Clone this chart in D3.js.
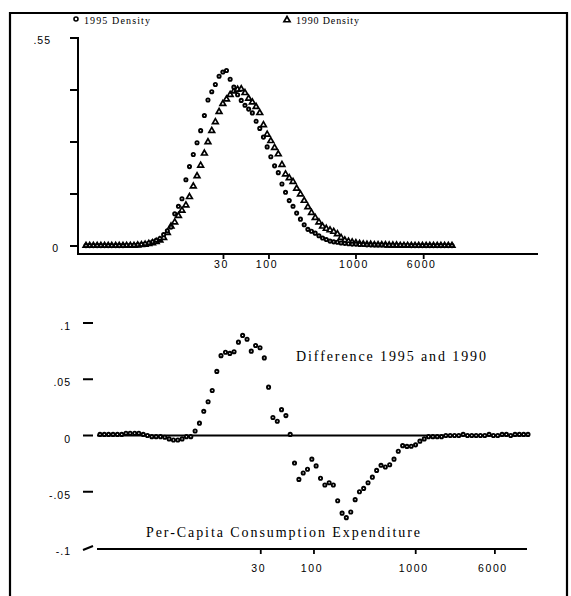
<!DOCTYPE html>
<html>
<head>
<meta charset="utf-8">
<script src="https://cdn.jsdelivr.net/npm/d3@7"></script>
<style>
  body { margin: 0; background: #fff; }
  svg { display: block; }
</style>
</head>
<body>
<script>
// per-capita consumption expenditure grid (evaluation points of the densities)
var expenditure = [
  0.789, 0.870, 0.959, 1.06, 1.17, 1.29, 1.42, 1.56, 1.73, 1.90,
  2.10, 2.31, 2.55, 2.81, 3.10, 3.42, 3.77, 4.16, 4.59, 5.06,
  5.58, 6.16, 6.79, 7.49, 8.26, 9.11, 10.0, 11.1, 12.2, 13.5,
  14.9, 16.4, 18.1, 19.9, 22.0, 24.2, 26.7, 29.5, 32.5, 35.8,
  39.5, 43.6, 48.0, 53.0, 58.4, 64.4, 71.1, 78.4, 86.4, 95.3,
  105, 116, 128, 141, 155, 171, 189, 208, 230, 254,
  280, 308, 340, 375, 413, 456, 503, 555, 612, 674,
  744, 820, 904, 997, 1100, 1213, 1337, 1475, 1627, 1794,
  1978, 2182, 2406, 2653, 2926, 3227, 3558, 3924, 4327, 4772,
  5262, 5803, 6400, 7057, 7783, 8583, 9465, 10438, 11511, 12694
];

var density1995 = [
  0.001, 0.001, 0.001, 0.001, 0.001, 0.001, 0.001, 0.001, 0.001, 0.001,
  0.001, 0.002, 0.002, 0.002, 0.003, 0.004, 0.006, 0.008, 0.011, 0.015,
  0.020, 0.030, 0.040, 0.050, 0.085, 0.105, 0.125, 0.175, 0.210, 0.242,
  0.273, 0.305, 0.345, 0.386, 0.408, 0.427, 0.449, 0.460, 0.464, 0.441,
  0.420, 0.400, 0.385, 0.372, 0.362, 0.352, 0.330, 0.311, 0.288, 0.262,
  0.236, 0.212, 0.194, 0.164, 0.142, 0.120, 0.105, 0.087, 0.071, 0.056,
  0.044, 0.039, 0.034, 0.027, 0.021, 0.017, 0.013, 0.011, 0.010, 0.008,
  0.007, 0.006, 0.005, 0.005, 0.004, 0.004, 0.003, 0.003, 0.003, 0.003,
  0.003, 0.002, 0.002, 0.002, 0.002, 0.002, 0.002, 0.002, 0.001, 0.001,
  0.001, 0.001, 0.001, 0.001, 0.001, 0.001, 0.001, 0.001, 0.001, 0.001
];

var density1990 = [
  0.001, 0.001, 0.001, 0.001, 0.001, 0.001, 0.001, 0.001, 0.001, 0.001,
  0.001, 0.001, 0.001, 0.001, 0.002, 0.003, 0.004, 0.006, 0.008, 0.011,
  0.015, 0.022, 0.035, 0.052, 0.063, 0.080, 0.094, 0.108, 0.130, 0.158,
  0.185, 0.213, 0.245, 0.275, 0.305, 0.328, 0.355, 0.376, 0.388, 0.400,
  0.409, 0.414, 0.415, 0.405, 0.390, 0.380, 0.368, 0.352, 0.320, 0.295,
  0.278, 0.260, 0.243, 0.215, 0.190, 0.180, 0.170, 0.152, 0.137, 0.120,
  0.103, 0.088, 0.075, 0.063, 0.052, 0.046, 0.042, 0.038, 0.032, 0.022,
  0.015, 0.012, 0.010, 0.008, 0.006, 0.005, 0.004, 0.004, 0.003, 0.003,
  0.003, 0.003, 0.002, 0.002, 0.002, 0.001, 0.001, 0.001, 0.001, 0.001,
  0.001, 0.001, 0.001, 0.001, 0.001, 0.001, 0.001, 0.001, 0.001, 0.001
];

var difference = [
  0.001, 0.001, 0.001, 0.001, 0.001, 0.001, 0.002, 0.002, 0.002, 0.002,
  0.001, 0.000, -0.001, -0.001, -0.001, -0.0015, -0.003, -0.004, -0.004, -0.003,
  -0.001, -0.001, 0.004, 0.011, 0.0215, 0.030, 0.040, 0.057, 0.071, 0.074,
  0.073, 0.0745, 0.083, 0.089, 0.0856, 0.075, 0.080, 0.078, 0.069, 0.043,
  0.016, 0.0127, 0.023, 0.0177, 0.001, -0.0245, -0.039, -0.0333, -0.030, -0.021,
  -0.027, -0.038, -0.044, -0.042, -0.044, -0.058, -0.069, -0.073, -0.068, -0.057,
  -0.050, -0.047, -0.042, -0.037, -0.031, -0.0265, -0.028, -0.026, -0.021, -0.014,
  -0.009, -0.0097, -0.0095, -0.0083, -0.005, -0.003, -0.001, -0.001, -0.001, -0.001,
  0.000, 0.000, 0.000, 0.000, 0.001, 0.000, 0.000, 0.000, 0.000, 0.000,
  0.001, 0.000, 0.000, 0.001, 0.001, 0.000, 0.001, 0.001, 0.001, 0.001
];

var xTickValues = [30, 100, 1000, 6000];
var topYTicks = [0, 0.1375, 0.275, 0.4125, 0.55];
var topYLabels = ['0', '', '', '', '.55'];
var bottomYTicks = [0.1, 0.05, 0, -0.05, -0.1];
var bottomYLabels = ['.1', '.05', '0', '-.05', '-.1'];
var legendLabels = ['1995 Density', '1990 Density'];

var width = 571, height = 596;
var serif = '"Liberation Serif", "Times New Roman", serif';
var sans = '"Liberation Sans", Arial, sans-serif';

var svg = d3.select('body').append('svg')
  .attr('width', width)
  .attr('height', height);

svg.append('rect').attr('width', width).attr('height', height).attr('fill', '#fff');

// outer frame
var frame = svg.append('g').attr('stroke', '#000').attr('stroke-width', 2.2);
frame.append('line').attr('x1', 10).attr('x2', 10).attr('y1', 12).attr('y2', height);
frame.append('line').attr('x1', 9).attr('x2', 568).attr('y1', 13).attr('y2', 13);
frame.append('line').attr('x1', 567).attr('x2', 567).attr('y1', 12).attr('y2', height);

var triangle = d3.symbol().type(d3.symbolTriangle).size(14);

function drawCircles(g, data, x, y) {
  g.selectAll('circle')
    .data(data)
    .enter().append('circle')
    .attr('cx', function(d, i) { return x(expenditure[i]); })
    .attr('cy', function(d) { return y(d); })
    .attr('r', 1.6)
    .attr('fill', '#fff')
    .attr('stroke', '#000')
    .attr('stroke-width', 1.9);
}

// ---------- top panel: densities ----------
var xTop = d3.scaleLog().domain([expenditure[0], expenditure[expenditure.length - 1]]).range([86, 452]);
var yTop = d3.scaleLinear().domain([0, 0.55]).range([246, 38]);

var topPanel = svg.append('g');

// legend
var legend = topPanel.append('g');
legend.append('circle').attr('cx', 76).attr('cy', 19).attr('r', 2)
  .attr('fill', '#fff').attr('stroke', '#000').attr('stroke-width', 1.6);
legend.append('path').attr('d', d3.symbol().type(d3.symbolTriangle).size(16)())
  .attr('transform', 'translate(287,20)')
  .attr('fill', '#fff').attr('stroke', '#000').attr('stroke-width', 1.7);
legend.selectAll('text')
  .data(legendLabels)
  .enter().append('text')
  .attr('x', function(d, i) { return i === 0 ? 84 : 296; })
  .attr('y', 24)
  .attr('textLength', function(d, i) { return i === 0 ? 66 : 63; })
  .attr('lengthAdjust', 'spacing')
  .style('font-family', serif)
  .style('font-size', '10px')
  .text(function(d) { return d; });

// y axis
topPanel.append('line').attr('x1', 78).attr('x2', 78).attr('y1', yTop(0.55) - 1).attr('y2', 255)
  .attr('stroke', '#000').attr('stroke-width', 2);
topPanel.selectAll('line.ytick')
  .data(topYTicks)
  .enter().append('line')
  .attr('class', 'ytick')
  .attr('x1', 70).attr('x2', 78)
  .attr('y1', function(d) { return yTop(d); })
  .attr('y2', function(d) { return yTop(d); })
  .attr('stroke', '#000').attr('stroke-width', 2);
topPanel.selectAll('text.ylab')
  .data(topYTicks)
  .enter().append('text')
  .attr('class', 'ylab')
  .attr('x', function(d) { return d === 0 ? 59 : 51; })
  .attr('y', function(d) { return yTop(d) + 6; })
  .attr('text-anchor', 'end')
  .style('font-family', sans)
  .style('font-size', '10.5px')
  .style('letter-spacing', '1px')
  .text(function(d, i) { return topYLabels[i]; });

// x axis
topPanel.append('line').attr('x1', 77).attr('x2', 538).attr('y1', 254).attr('y2', 254)
  .attr('stroke', '#000').attr('stroke-width', 2.2);
topPanel.selectAll('line.xtick')
  .data(xTickValues)
  .enter().append('line')
  .attr('class', 'xtick')
  .attr('x1', function(d) { return xTop(d); })
  .attr('x2', function(d) { return xTop(d); })
  .attr('y1', 254).attr('y2', 259)
  .attr('stroke', '#000').attr('stroke-width', 1.8);
topPanel.selectAll('text.xlab')
  .data(xTickValues)
  .enter().append('text')
  .attr('class', 'xlab')
  .attr('x', function(d) { return xTop(d) - 2; })
  .attr('y', 268)
  .attr('text-anchor', 'middle')
  .style('font-family', sans)
  .style('font-size', '10.5px')
  .style('letter-spacing', '1.6px')
  .text(function(d) { return d; });

// series
var s1990 = topPanel.append('g');
s1990.selectAll('path')
  .data(density1990)
  .enter().append('path')
  .attr('d', triangle)
  .attr('transform', function(d, i) {
    return 'translate(' + xTop(expenditure[i]) + ',' + yTop(d) + ')';
  })
  .attr('fill', '#fff')
  .attr('stroke', '#000')
  .attr('stroke-width', 1.7);

drawCircles(topPanel.append('g'), density1995, xTop, yTop);

// ---------- bottom panel: difference ----------
var xBot = d3.scaleLog().domain([expenditure[0], expenditure[expenditure.length - 1]]).range([100, 528]);
var yBot = d3.scaleLinear().domain([-0.1, 0.1]).range([548, 323]);

var bottomPanel = svg.append('g');

bottomPanel.selectAll('line.ytick')
  .data(bottomYTicks)
  .enter().append('line')
  .attr('class', 'ytick')
  .attr('x1', 83).attr('x2', 93)
  .attr('y1', function(d) { return d === -0.1 ? yBot(d) + 2 : yBot(d); })
  .attr('y2', function(d) { return d === -0.1 ? yBot(d) - 2 : yBot(d); })
  .attr('stroke', '#000').attr('stroke-width', 2);
bottomPanel.selectAll('text.ylab')
  .data(bottomYTicks)
  .enter().append('text')
  .attr('class', 'ylab')
  .attr('x', 71)
  .attr('y', function(d) { return yBot(d) + 7; })
  .attr('text-anchor', 'end')
  .style('font-family', sans)
  .style('font-size', '10.5px')
  .style('letter-spacing', '1px')
  .text(function(d, i) { return bottomYLabels[i]; });

// zero line and x axis
bottomPanel.append('line').attr('x1', 97).attr('x2', 528).attr('y1', yBot(0)).attr('y2', yBot(0))
  .attr('stroke', '#000').attr('stroke-width', 2);
bottomPanel.append('line').attr('x1', 97).attr('x2', 527).attr('y1', 549).attr('y2', 549)
  .attr('stroke', '#000').attr('stroke-width', 2.2);
bottomPanel.selectAll('line.xtick')
  .data(xTickValues)
  .enter().append('line')
  .attr('class', 'xtick')
  .attr('x1', function(d) { return xBot(d); })
  .attr('x2', function(d) { return xBot(d); })
  .attr('y1', 549).attr('y2', 554)
  .attr('stroke', '#000').attr('stroke-width', 1.8);
bottomPanel.selectAll('text.xlab')
  .data(xTickValues)
  .enter().append('text')
  .attr('class', 'xlab')
  .attr('x', function(d) { return xBot(d) - 2; })
  .attr('y', 572)
  .attr('text-anchor', 'middle')
  .style('font-family', sans)
  .style('font-size', '10.5px')
  .style('letter-spacing', '1.6px')
  .text(function(d) { return d; });

bottomPanel.append('text')
  .attr('x', 296).attr('y', 361)
  .attr('textLength', 190).attr('lengthAdjust', 'spacing')
  .style('font-family', serif)
  .style('font-size', '14px')
  .text('Difference 1995 and 1990');

bottomPanel.append('text')
  .attr('x', 146).attr('y', 537)
  .attr('textLength', 274).attr('lengthAdjust', 'spacing')
  .style('font-family', serif)
  .style('font-size', '14px')
  .text('Per-Capita Consumption Expenditure');

drawCircles(bottomPanel.append('g'), difference, xBot, yBot);
</script>
</body>
</html>
